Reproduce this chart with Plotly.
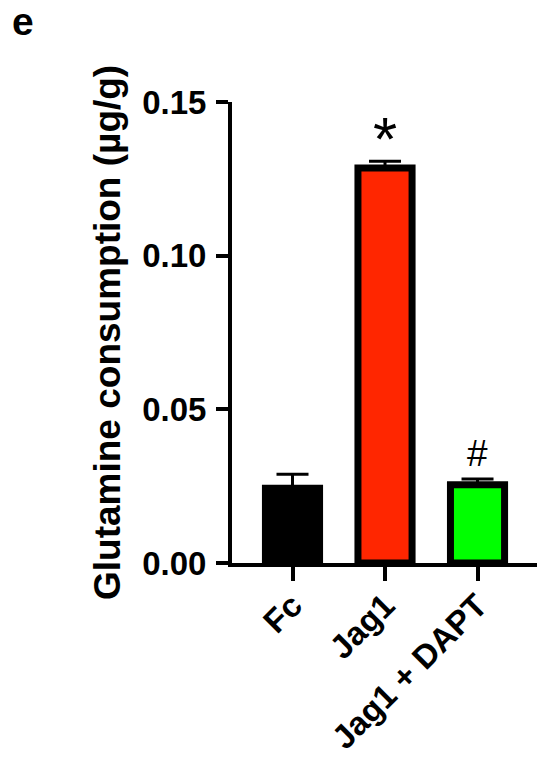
import plotly.graph_objects as go

categories = ["Fc", "Jag1", "Jag1 + DAPT"]
means = [0.0243, 0.1285, 0.0255]
sems = [0.0046, 0.0022, 0.0018]
colors = ["#000000", "#FF2600", "#00FF00"]
marks = ["", "*", "#"]
y_ticks = [0.0, 0.05, 0.10, 0.15]
y_ticktext = ["0.00", "0.05", "0.10", "0.15"]

W, H = 541, 766
L, R, T, B = 232, 4, 102, 203
pw, ph = W - L - R, H - T - B

def px_x(px):
    return (px - L) / pw

def px_y(py):
    return (H - B - py) / ph

bold = dict(family="Liberation Sans, Arial, sans-serif", color="black", weight="bold")

fig = go.Figure()
fig.add_trace(go.Bar(
    x=categories, y=means, width=0.585,
    marker=dict(color=colors, line=dict(color="black", width=7)),
    error_y=dict(type="data", array=sems, arrayminus=[0] * len(sems), symmetric=False,
                 color="black", thickness=3, width=16),
    showlegend=False, hoverinfo="skip",
))

ann = []
ann.append(dict(x=px_x(23), y=px_y(21), xref="paper", yref="paper", text="e",
                showarrow=False, xanchor="center", yanchor="middle",
                font=dict(size=39, **bold)))
ann.append(dict(x=px_x(107), y=px_y(333), xref="paper", yref="paper",
                text="Glutamine consumption (µg/g)", textangle=-90,
                showarrow=False, xanchor="center", yanchor="middle",
                font=dict(size=37, **bold)))
for c, m, s, mk in zip(categories, means, sems, marks):
    if not mk:
        continue
    if mk == "*":
        ann.append(dict(x=c, y=m + s, xref="x", yref="y", text=mk, showarrow=False,
                        xanchor="center", yanchor="bottom", yshift=-14,
                        font=dict(size=62, family="Liberation Sans, Arial, sans-serif", color="black")))
    else:
        ann.append(dict(x=c, y=m + s, xref="x", yref="y", text=mk, showarrow=False,
                        xanchor="center", yanchor="bottom", yshift=3,
                        font=dict(size=37, family="Liberation Sans, Arial, sans-serif", color="black")))

fig.update_layout(
    width=W, height=H,
    margin=dict(l=L, r=R, t=T, b=B, pad=0, autoexpand=False),
    paper_bgcolor="white", plot_bgcolor="white",
    annotations=ann,
    xaxis=dict(
        range=[-0.654, 2.643], showgrid=False, zeroline=False, automargin=False,
        showline=True, linecolor="black", linewidth=4,
        ticks="outside", ticklen=14, tickwidth=4, tickcolor="black",
        tickangle=-45, tickfont=dict(size=33, **bold), ticklabelstandoff=-8,
    ),
    yaxis=dict(
        range=[0, 0.15], showgrid=False, zeroline=False, automargin=False,
        showline=True, linecolor="black", linewidth=4,
        ticks="outside", ticklen=12, tickwidth=4, tickcolor="black",
        tickvals=y_ticks, ticktext=y_ticktext, ticklabelstandoff=3,
        tickfont=dict(size=33, **bold),
    ),
)

fig.write_html("out.html")
